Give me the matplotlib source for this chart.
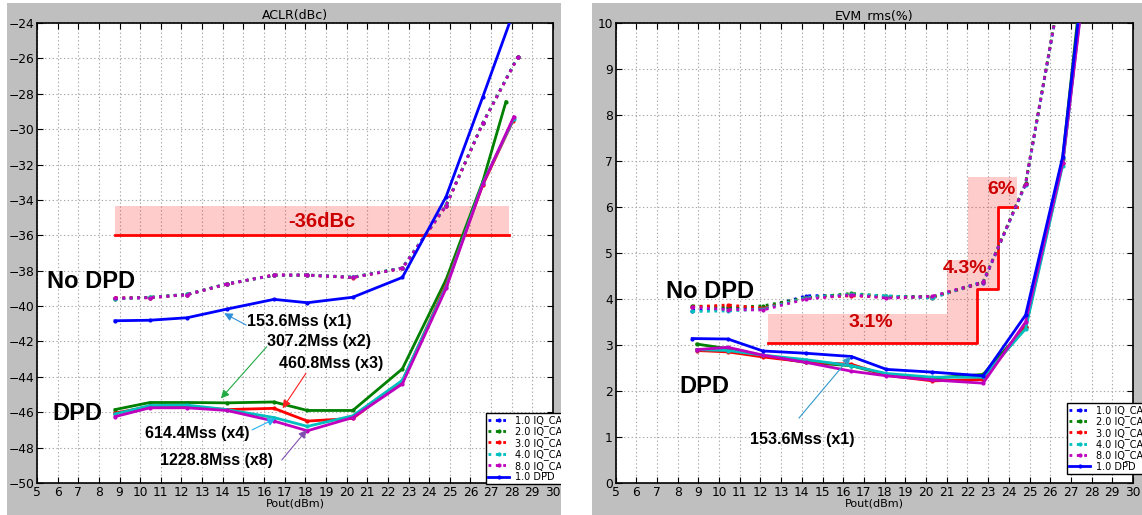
import matplotlib
matplotlib.use("Agg")
import matplotlib.pyplot as plt
from matplotlib.patches import Rectangle, Polygon

# ---------------- data ----------------
# ACLR (left)
aclr_pout = [8.78, 10.47, 12.27, 14.2, 16.48, 18.1, 20.3, 22.7, 24.82, 26.6]
aclr_nodpd_1 = [-39.55, -39.52, -39.36, -38.76, -38.25, -38.25, -38.38, -37.86, -34.32, -29.66, -25.92]
aclr_nodpd_2 = [-39.58, -39.50, -39.33, -38.74, -38.27, -38.24, -38.36, -37.84, -34.30, -29.64, -25.90]
aclr_nodpd_3 = [-39.54, -39.53, -39.35, -38.77, -38.24, -38.26, -38.39, -37.87, -34.33, -29.67, -25.93]
aclr_nodpd_4 = [-39.60, -39.51, -39.34, -38.75, -38.26, -38.25, -38.37, -37.85, -34.31, -29.65, -25.91]
aclr_nodpd_8 = [-39.57, -39.52, -39.35, -38.75, -38.25, -38.25, -38.38, -37.86, -34.32, -29.66, -25.92]
aclr_nodpd_end = 28.3
aclr_dpd_1 = [-40.83, -40.80, -40.66, -40.17, -39.62, -39.81, -39.50, -38.38, -33.82, -28.17, -23.0]
aclr_dpd_2 = [-45.85, -45.45, -45.45, -45.47, -45.42, -45.90, -45.90, -43.55, -38.50, -32.95, -28.45]
aclr_dpd_3 = [-46.05, -45.68, -45.70, -45.85, -45.78, -46.50, -46.35, -44.25, -38.80, -33.15, -29.55]
aclr_dpd_4 = [-46.10, -45.62, -45.60, -45.85, -46.30, -46.80, -46.20, -44.20, -38.90, -33.05, -29.40]
aclr_dpd_8 = [-46.25, -45.75, -45.75, -45.90, -46.50, -47.05, -46.30, -44.40, -39.00, -33.10, -29.30]
aclr_dpd_end = [28.2, 27.72, 28.05, 28.1, 28.1]
aclr_limit = -36
aclr_limit_top = -34.34
aclr_limit_x = [8.78, 27.87]

# EVM (right)
evm_pout = [8.71, 10.43, 12.12, 14.22, 16.4, 18.09, 20.31, 22.76, 24.81, 26.6]
evm_nodpd_1 = [3.75, 3.80, 3.80, 4.07, 4.08, 4.05, 4.04, 4.35, 6.50, 11.0]
evm_nodpd_2 = [3.85, 3.82, 3.85, 4.03, 4.12, 4.06, 4.05, 4.37, 6.52, 11.0]
evm_nodpd_3 = [3.83, 3.87, 3.80, 4.02, 4.07, 4.04, 4.03, 4.36, 6.50, 11.0]
evm_nodpd_4 = [3.73, 3.74, 3.78, 4.03, 4.10, 4.07, 4.02, 4.38, 6.48, 11.0]
evm_nodpd_8 = [3.82, 3.77, 3.76, 4.00, 4.09, 4.02, 4.06, 4.37, 6.50, 11.0]
evm_dpd_start = [8.71, 8.93, 8.93, 8.93, 8.93]
evm_dpd_end = 27.9
evm_dpd_1 = [3.14, 3.13, 2.87, 2.82, 2.75, 2.47, 2.41, 2.33, 3.65, 7.09, 12.2]
evm_dpd_2 = [3.02, 2.92, 2.77, 2.62, 2.55, 2.35, 2.28, 2.36, 3.40, 7.05, 12.5]
evm_dpd_3 = [2.88, 2.85, 2.74, 2.63, 2.58, 2.34, 2.22, 2.25, 3.40, 6.95, 12.0]
evm_dpd_4 = [2.90, 2.88, 2.78, 2.68, 2.55, 2.38, 2.30, 2.30, 3.35, 6.90, 11.9]
evm_dpd_8 = [2.90, 2.95, 2.78, 2.62, 2.43, 2.33, 2.24, 2.17, 3.50, 6.95, 11.8]
evm_limit_x = [12.36, 22.44, 22.44, 23.49, 23.49, 24.42]
evm_limit_y = [3.05, 3.05, 4.22, 4.22, 6.0, 6.0]
evm_limit_labels = ["3.1%", "4.3%", "6%"]

legend_labels = ["1.0 IQ_CAP", "2.0 IQ_CAP", "3.0 IQ_CAP", "4.0 IQ_CAP", "8.0 IQ_CAP", "1.0 DPD"]
colors = ["#0000ff", "#008000", "#ff0000", "#00bfbf", "#bf00bf"]
rates = ["153.6Mss (x1)", "307.2Mss (x2)", "460.8Mss (x3)", "614.4Mss (x4)", "1228.8Mss (x8)"]

# ---------------- figure ----------------
W, H = 1142, 515
fig = plt.figure(figsize=(W / 100, H / 100), dpi=100, facecolor="white")


def frect(x0, y0, x1, y1, color, z):
    r = Rectangle((x0 / W, 1 - y1 / H), (x1 - x0) / W, (y1 - y0) / H,
                  transform=fig.transFigure, facecolor=color, edgecolor="none", zorder=z)
    fig.patches.append(r)


frect(7, 3, 561, 515, "#bfbfbf", 0)
frect(561, 0, 592, 515, "white", 2)
frect(592, 3, 1142, 515, "#bfbfbf", 2)

ax1 = fig.add_axes([37 / W, 32 / H, 516 / W, 460 / H], zorder=1)
ax2 = fig.add_axes([615.5 / W, 32 / H, 517.5 / W, 460 / H], zorder=3)

ann_font = dict(family=["Liberation Sans", "DejaVu Sans"], fontweight="bold")


def style_axes(ax, title, ylim, ystep):
    ax.set_xlim(5, 30)
    ax.set_ylim(*ylim)
    ax.set_xticks(range(5, 31))
    ax.set_yticks(range(ylim[0], ylim[1] + 1, ystep))
    ax.tick_params(direction="in", top=True, right=True, length=4, width=0.8,
                   labelsize=8.8, pad=2, colors="black")
    ax.grid(True, linestyle=(0, (1.2, 2.2)), color="#a8a8a8", linewidth=0.8)
    ax.set_axisbelow(True)
    for s in ax.spines.values():
        s.set_linewidth(1.2)
        s.set_color("black")
    ax.set_title(title, fontsize=9, pad=3)
    ax.set_xlabel("Pout(dBm)", fontsize=8, labelpad=0)


# ---------- ACLR ----------
style_axes(ax1, "ACLR(dBc)", (-50, -24), 2)
ax1.add_patch(Rectangle((aclr_limit_x[0], aclr_limit), aclr_limit_x[1] - aclr_limit_x[0],
                        aclr_limit_top - aclr_limit, facecolor="red", alpha=0.2,
                        edgecolor="none", zorder=1.5))
ax1.plot(aclr_limit_x, [aclr_limit, aclr_limit], color="red", lw=2, zorder=2)
ax1.text(18.8, -35.2, "-36dBc", color="#cc0000", fontsize=14.5, ha="center", va="center", **ann_font)

nodpd_l = [aclr_nodpd_1, aclr_nodpd_2, aclr_nodpd_3, aclr_nodpd_4, aclr_nodpd_8]
dpd_l = [aclr_dpd_1, aclr_dpd_2, aclr_dpd_3, aclr_dpd_4, aclr_dpd_8]
handles = []
for i, ys in enumerate(nodpd_l):
    h, = ax1.plot(aclr_pout + [aclr_nodpd_end], ys, linestyle=":", lw=2, color=colors[i],
                  marker=".", ms=4, zorder=3, label=legend_labels[i])
    handles.append(h)
for i, ys in enumerate(dpd_l):
    h, = ax1.plot(aclr_pout + [aclr_dpd_end[i]], ys, linestyle="-", lw=2, color=colors[i],
                  marker=".", ms=4, zorder=3 if i else 3.5)
    if i == 0:
        h.set_label(legend_labels[5])
        handles.append(h)
ax1.legend(handles=handles, loc="upper left", bbox_to_anchor=(0.870, 0.152), fontsize=7,
           labelspacing=0.05, borderpad=0.2, handlelength=2.2, handletextpad=0.6,
           fancybox=False, edgecolor="black", framealpha=1, borderaxespad=0)

ax1.text(5.48, -38.62, "No DPD", fontsize=17, ha="left", va="center", **ann_font)
ax1.text(5.73, -46.05, "DPD", fontsize=17, ha="left", va="center", **ann_font)

aclr_text_pos = [(15.16, -40.85), (16.13, -42.02), (16.74, -43.22), (10.23, -47.19), (10.96, -48.74)]
aclr_arrow_tail = [(15.13, -41.07), (16.13, -42.3), (18.03, -43.8), (15.42, -47.0), (16.86, -48.7)]
aclr_arrow_tip = [(14.07, -40.41), (13.91, -45.22), (16.9, -45.78), (16.56, -46.35), (18.07, -47.0)]
arrow_cols = ["#2f8fd8", "#22aa44", "#ff2020", "#22b0ee", "#8050b0"]
for i in range(5):
    ax1.text(*aclr_text_pos[i], rates[i], fontsize=11.5, ha="left", va="center", zorder=5, **ann_font)
    ax1.annotate("", xy=aclr_arrow_tip[i], xytext=aclr_arrow_tail[i],
                 arrowprops=dict(arrowstyle="-|>", color=arrow_cols[i], lw=0.8,
                                 shrinkA=0, shrinkB=0, mutation_scale=12), zorder=5)

# ---------- EVM ----------
style_axes(ax2, "EVM_rms(%)", (0, 10), 1)
pink = [(12.36, 3.05), (22.44, 3.05), (22.44, 4.22), (23.49, 4.22), (23.49, 6.0), (24.42, 6.0),
        (24.42, 6.65), (22.03, 6.65), (22.03, 4.85), (21.02, 4.85), (21.02, 3.67), (12.36, 3.67)]
ax2.add_patch(Polygon(pink, closed=True, facecolor="red", alpha=0.2, edgecolor="none", zorder=1.5))
ax2.plot(evm_limit_x, evm_limit_y, color="red", lw=2, zorder=2)
evm_label_pos = [(17.34, 3.49), (21.88, 4.67), (23.66, 6.38)]
for lab, (lx, ly) in zip(evm_limit_labels, evm_label_pos):
    ax2.text(lx, ly, lab, color="#cc0000", fontsize=14, ha="center", va="center", zorder=5, **ann_font)

nodpd_r = [evm_nodpd_1, evm_nodpd_2, evm_nodpd_3, evm_nodpd_4, evm_nodpd_8]
dpd_r = [evm_dpd_1, evm_dpd_2, evm_dpd_3, evm_dpd_4, evm_dpd_8]
handles = []
for i, ys in enumerate(nodpd_r):
    h, = ax2.plot(evm_pout, ys, linestyle=":", lw=2, color=colors[i], marker=".", ms=4,
                  zorder=3, label=legend_labels[i])
    handles.append(h)
for i, ys in enumerate(dpd_r):
    xs = [evm_dpd_start[i]] + evm_pout[1:] + [evm_dpd_end]
    h, = ax2.plot(xs, ys, linestyle="-", lw=2, color=colors[i], marker=".", ms=4,
                  zorder=3 if i else 3.5)
    if i == 0:
        h.set_label(legend_labels[5])
        handles.append(h)
ax2.legend(handles=handles, loc="upper left", bbox_to_anchor=(0.8725, 0.174), fontsize=7,
           labelspacing=0.05, borderpad=0.2, handlelength=2.2, handletextpad=0.6,
           fancybox=False, edgecolor="black", framealpha=1, borderaxespad=0)

ax2.text(7.43, 4.16, "No DPD", fontsize=17, ha="left", va="center", **ann_font)
ax2.text(8.07, 2.09, "DPD", fontsize=17, ha="left", va="center", **ann_font)
ax2.text(11.5, 0.95, rates[0], fontsize=11.5, ha="left", va="center",
         family=["Liberation Sans", "DejaVu Sans"], fontweight="semibold")
ax2.annotate("", xy=(16.36, 2.75), xytext=(13.86, 1.41),
             arrowprops=dict(arrowstyle="-|>", color="#3399cc", lw=0.8,
                             shrinkA=0, shrinkB=0, mutation_scale=12), zorder=5)

fig.savefig("out.png", dpi=100, facecolor="white")
